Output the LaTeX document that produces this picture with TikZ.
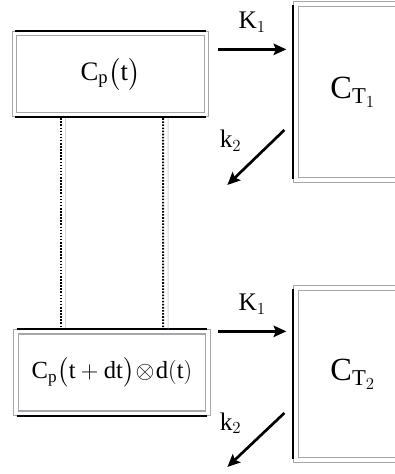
\documentclass[tikz,border=0pt]{standalone}
\usepackage{amsmath, amssymb}
\usepackage{fontspec}
\setmainfont{Liberation Serif}
\usetikzlibrary{arrows.meta,calc}
\definecolor{frameGray}{RGB}{165,165,172}
\definecolor{frameLight}{RGB}{212,212,218}

\begin{document}
\begin{tikzpicture}[x=0.025cm, y=-0.025cm,
    frame/.style={draw=frameGray, line width=0.9pt, double=white, double distance=2.2pt, fill=white, inner sep=0pt},
    plasma/.style={frame, minimum width=4.8cm, minimum height=2.03cm, font=\fontsize{17.5}{21}\selectfont},
    tissue/.style={frame, minimum width=2.85cm, font=\fontsize{23}{27}\selectfont},
    darkedge/.style={black, line width=1.3pt},
    rate/.style={line width=1.9pt, -{Stealth[length=9pt, width=8pt, inset=1.5pt]}},
    ratelabel/.style={font=\fontsize{18}{21}\selectfont},
    conv/.style={line width=1.3pt, dash pattern=on 1.1pt off 1.1pt},
    convedge/.style={frameLight, line width=0.8pt}]
  \useasboundingbox (0,0) rectangle (395,474);
  \clip (0,0) rectangle (395,474);

  % plasma boxes (left)
  \node[plasma, font=\fontsize{19}{22}\selectfont] (cp1) at (110.5,74) {$\text{C}_{\text{p}}\bigl(\text{t}\bigr)$};
  \node[plasma] (cp2) at (112,372.5) {$\text{C}_{\text{p}}\bigl(\text{t}+\text{dt}\bigr)\!\otimes\!\text{d}(\text{t})$};
  \draw[darkedge] ([shift={(1pt,1.4pt)}]cp1.north west) -- ([shift={(-1pt,1.4pt)}]cp1.north east);
  \draw[darkedge] ([shift={(1pt,-1.4pt)}]cp1.south west) -- ([shift={(-1pt,-1.4pt)}]cp1.south east);
  \draw[darkedge] ([shift={(1pt,1.4pt)}]cp2.north west) -- ([shift={(-1pt,1.4pt)}]cp2.north east);
  \draw[darkedge] ([shift={(1pt,-1.4pt)}]cp2.south west) -- ([shift={(-1pt,-1.4pt)}]cp2.south east);

  % tissue boxes (right, cut by the edge)
  \node[tissue, minimum height=4.4cm] (ct1) at (353,92) {$\text{C}_{\text{T}_1}$};
  \node[tissue, minimum height=4.3cm] (ct2) at (353,374) {$\text{C}_{\text{T}_2}$};
  \draw[darkedge] ([shift={(-1.4pt,-1pt)}]ct1.north west) -- ([shift={(-1.4pt,1pt)}]ct1.south west);
  \draw[darkedge] ([shift={(-1.4pt,-1pt)}]ct2.north west) -- ([shift={(-1.4pt,1pt)}]ct2.south west);

  % convolution band between the plasma boxes
  \draw[convedge] ($(cp1.south west)+(52,3)$) -- ($(cp2.north west)+(50.5,-3)$);
  \draw[convedge] ($(cp1.south east)+(-39,3)$) -- ($(cp2.north east)+(-40.5,-3)$);
  \draw[conv] ($(cp1.south west)+(47,3)$) -- ($(cp2.north west)+(45.5,-3)$);
  \draw[conv] ($(cp1.south east)+(-44,3)$) -- ($(cp2.north east)+(-45.5,-3)$);

  % rate constants
  \draw[rate] ($(cp1.east |- ct1.north)+(11,46)$) -- node[ratelabel, above=8pt] {$\text{K}_1$} ($(ct1.north west)+(-9,46)$);
  \draw[rate] ($(ct1.west)+(-11,38)$) -- node[ratelabel, above left, xshift=-6pt] {$\text{k}_2$} ($(ct1.west)+(-68,93)$);
  \draw[rate] ($(cp2.east |- ct2.north)+(9.5,44)$) -- node[ratelabel, above=8pt] {$\text{K}_1$} ($(ct2.north west)+(-9,44)$);
  \draw[rate] ($(ct2.west)+(-11,39)$) -- node[ratelabel, above left, xshift=-6pt] {$\text{k}_2$} ($(ct2.west)+(-68,93)$);
\end{tikzpicture}
\end{document}
